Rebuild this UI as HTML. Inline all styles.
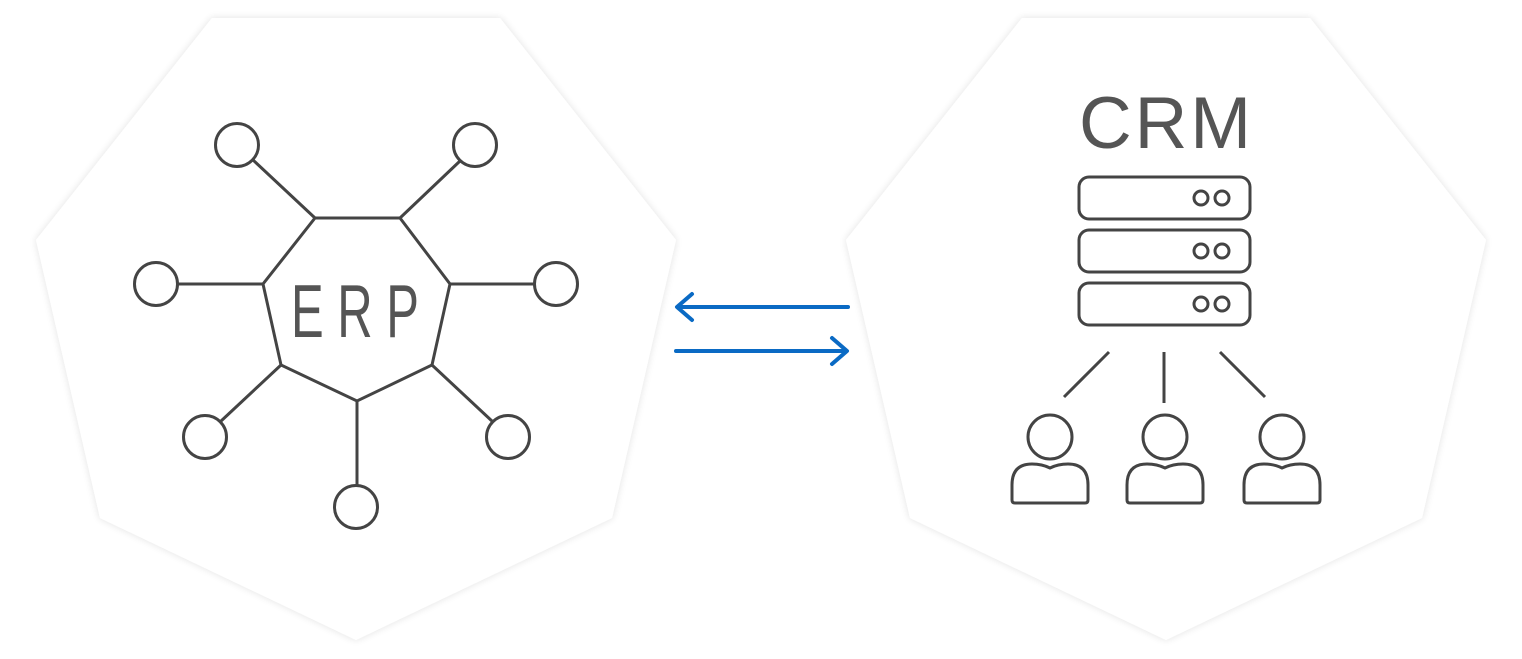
<!DOCTYPE html>
<html><head><meta charset="utf-8"><style>
html,body{margin:0;padding:0;background:#fff;}
svg{display:block;}
</style></head><body>
<svg width="1522" height="659" viewBox="0 0 1522 659" xmlns="http://www.w3.org/2000/svg">
<defs>
<filter id="sh" x="-10%" y="-10%" width="120%" height="120%">
<feGaussianBlur in="SourceAlpha" stdDeviation="4"/>
<feComponentTransfer><feFuncA type="linear" slope="0.12"/></feComponentTransfer>
<feMerge><feMergeNode/><feMergeNode in="SourceGraphic"/></feMerge>
</filter>
</defs>
<polygon filter="url(#sh)" fill="#fff" points="212,18 500,18 676,240 612,518 356,640 100,518 36,240"/>
<polygon filter="url(#sh)" fill="#fff" points="1022,18 1310,18 1486,240 1422,518 1166,640 910,518 846,240"/>

<g stroke="#444" stroke-width="3" fill="none">
<polygon points="315,218 400,218 450,284 432,365 357,401 281,365 263,284"/>
<line x1="315" y1="218" x2="253" y2="160"/>
<line x1="400" y1="218" x2="460" y2="161"/>
<line x1="263" y1="284" x2="177" y2="284"/>
<line x1="450" y1="284" x2="535" y2="284"/>
<line x1="281" y1="365" x2="220" y2="422"/>
<line x1="432" y1="365" x2="493" y2="422"/>
<line x1="357" y1="401" x2="357" y2="486"/>
<circle cx="237" cy="145" r="21.5"/>
<circle cx="475" cy="145" r="21.5"/>
<circle cx="156" cy="284" r="21.5"/>
<circle cx="556" cy="284" r="21.5"/>
<circle cx="205" cy="437" r="21.5"/>
<circle cx="508" cy="437" r="21.5"/>
<circle cx="356" cy="507" r="21.5"/>

<rect x="1079" y="177" width="171" height="42" rx="10"/>
<rect x="1079" y="230" width="171" height="42" rx="10"/>
<rect x="1079" y="283" width="171" height="42" rx="10"/>
<circle cx="1201" cy="198" r="7"/><circle cx="1222" cy="198" r="7"/>
<circle cx="1201" cy="251" r="7"/><circle cx="1222" cy="251" r="7"/>
<circle cx="1201" cy="304" r="7"/><circle cx="1222" cy="304" r="7"/>
<line x1="1109" y1="352" x2="1064" y2="397"/>
<line x1="1164" y1="352" x2="1164" y2="403"/>
<line x1="1220" y1="352" x2="1265" y2="397"/>
<g id="p">
<circle cx="1050" cy="437" r="22"/>
<path d="M1012,500 L1012,485 Q1012,464 1032,464 Q1042,464 1050,468 Q1058,464 1068,464 Q1088,464 1088,485 L1088,500 Q1088,503 1085,503 L1015,503 Q1012,503 1012,500 Z"/>
</g>
<use href="#p" x="115"/>
<use href="#p" x="232"/>
</g>

<g stroke="#0a6ac4" stroke-width="4" fill="none" stroke-linecap="round" stroke-linejoin="round">
<line x1="848" y1="307" x2="678" y2="307"/>
<polyline points="692,294 677,307 692,320"/>
<line x1="676" y1="351" x2="846" y2="351"/>
<polyline points="832,338 847,351 832,364"/>
</g>

<text x="291" y="337" font-family="Liberation Sans, sans-serif" font-size="75" fill="#555" textLength="128" lengthAdjust="spacingAndGlyphs">E R P</text>
<text x="1079" y="148" font-family="Liberation Sans, sans-serif" font-size="73" fill="#555" textLength="172" lengthAdjust="spacing">CRM</text>
</svg>
</body></html>
